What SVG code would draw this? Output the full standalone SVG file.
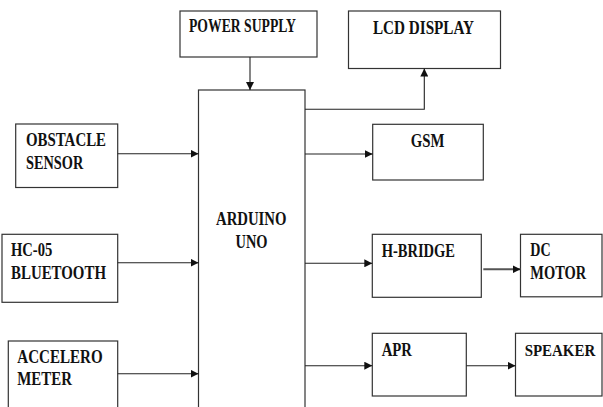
<svg xmlns="http://www.w3.org/2000/svg" width="603" height="407" viewBox="0 0 603 407">
<style>
.box{fill:#fff;stroke:#333;stroke-width:1.2}
.t{font-family:"Liberation Serif","Times New Roman",serif;font-weight:bold;font-size:18px;fill:#111}
.c{fill:none;stroke:#222;stroke-width:1.1}
</style>
<defs>
<marker id="ah" viewBox="0 0 10 10" refX="10" refY="5" markerWidth="8" markerHeight="8" markerUnits="userSpaceOnUse" orient="auto">
<path d="M0,0 L10,5 L0,10 Z" fill="#111"/>
</marker>
</defs>
<rect width="603" height="407" fill="#fff"/>
<g id="power-supply">
<rect class="box" x="180" y="11" width="137" height="46"/>
<text class="t" x="189" y="32" textLength="107" lengthAdjust="spacingAndGlyphs">POWER SUPPLY</text>
</g>
<g id="lcd-display">
<rect class="box" x="348.5" y="11" width="152" height="57.5"/>
<text class="t" x="373" y="34" textLength="101" lengthAdjust="spacingAndGlyphs">LCD DISPLAY</text>
</g>
<g id="arduino-uno">
<rect class="box" x="198.5" y="90" width="106.5" height="330"/>
<text class="t" x="216" y="224.5" textLength="70.5" lengthAdjust="spacingAndGlyphs">ARDUINO</text>
<text class="t" x="235.5" y="247.5" textLength="32" lengthAdjust="spacingAndGlyphs">UNO</text>
</g>
<g id="obstacle-sensor">
<rect class="box" x="15.7" y="124" width="102" height="63.5"/>
<text class="t" x="26" y="145.7" textLength="80" lengthAdjust="spacingAndGlyphs">OBSTACLE</text>
<text class="t" x="26" y="168.5" textLength="57.3" lengthAdjust="spacingAndGlyphs">SENSOR</text>
</g>
<g id="gsm">
<rect class="box" x="372.7" y="124.3" width="110.6" height="55.7"/>
<text class="t" x="410.7" y="147" textLength="33.7" lengthAdjust="spacingAndGlyphs">GSM</text>
</g>
<g id="hc05-bluetooth">
<rect class="box" x="2" y="234.3" width="115.7" height="68"/>
<text class="t" x="11" y="256" textLength="41.3" lengthAdjust="spacingAndGlyphs">HC-05</text>
<text class="t" x="11" y="279" textLength="95" lengthAdjust="spacingAndGlyphs">BLUETOOTH</text>
</g>
<g id="accelerometer">
<rect class="box" x="8.3" y="341" width="109.4" height="80"/>
<text class="t" x="17.3" y="362.5" textLength="85.3" lengthAdjust="spacingAndGlyphs">ACCELERO</text>
<text class="t" x="17.3" y="385.3" textLength="54.7" lengthAdjust="spacingAndGlyphs">METER</text>
</g>
<g id="h-bridge">
<rect class="box" x="372.3" y="234.3" width="109" height="63"/>
<text class="t" x="381.7" y="257.3" textLength="73.3" lengthAdjust="spacingAndGlyphs">H-BRIDGE</text>
</g>
<g id="dc-motor">
<rect class="box" x="520.5" y="234.3" width="81.5" height="62.5"/>
<text class="t" x="530.3" y="256" textLength="20.3" lengthAdjust="spacingAndGlyphs">DC</text>
<text class="t" x="530.3" y="279" textLength="56" lengthAdjust="spacingAndGlyphs">MOTOR</text>
</g>
<g id="apr">
<rect class="box" x="372.3" y="333.3" width="94" height="62.7"/>
<text class="t" x="381.7" y="356" textLength="30.3" lengthAdjust="spacingAndGlyphs">APR</text>
</g>
<g id="speaker">
<rect class="box" x="515.5" y="333.3" width="86.5" height="62.7"/>
<text class="t" x="524.7" y="356" style="font-size:16px" textLength="70.5" lengthAdjust="spacingAndGlyphs">SPEAKER</text>
</g>
<g id="connectors">
<path class="c" d="M250,57 V90" marker-end="url(#ah)"/>
<path class="c" d="M305,109.3 H424.3 V68.5" marker-end="url(#ah)"/>
<path class="c" d="M117.7,153.7 H198.5" marker-end="url(#ah)"/>
<path class="c" d="M117.7,262.7 H198.5" marker-end="url(#ah)"/>
<path class="c" d="M117.7,373.7 H198.5" marker-end="url(#ah)"/>
<path class="c" d="M305,154 H372.7" marker-end="url(#ah)"/>
<path class="c" d="M305,263.3 H372.3" marker-end="url(#ah)"/>
<path class="c" d="M305,365.7 H372.3" marker-end="url(#ah)"/>
<path class="c" d="M483.3,269.3 H520.5" style="stroke:#555;stroke-width:2" marker-end="url(#ah)"/>
<path class="c" d="M466.3,365.7 H515.5" marker-end="url(#ah)"/>
</g>
</svg>
